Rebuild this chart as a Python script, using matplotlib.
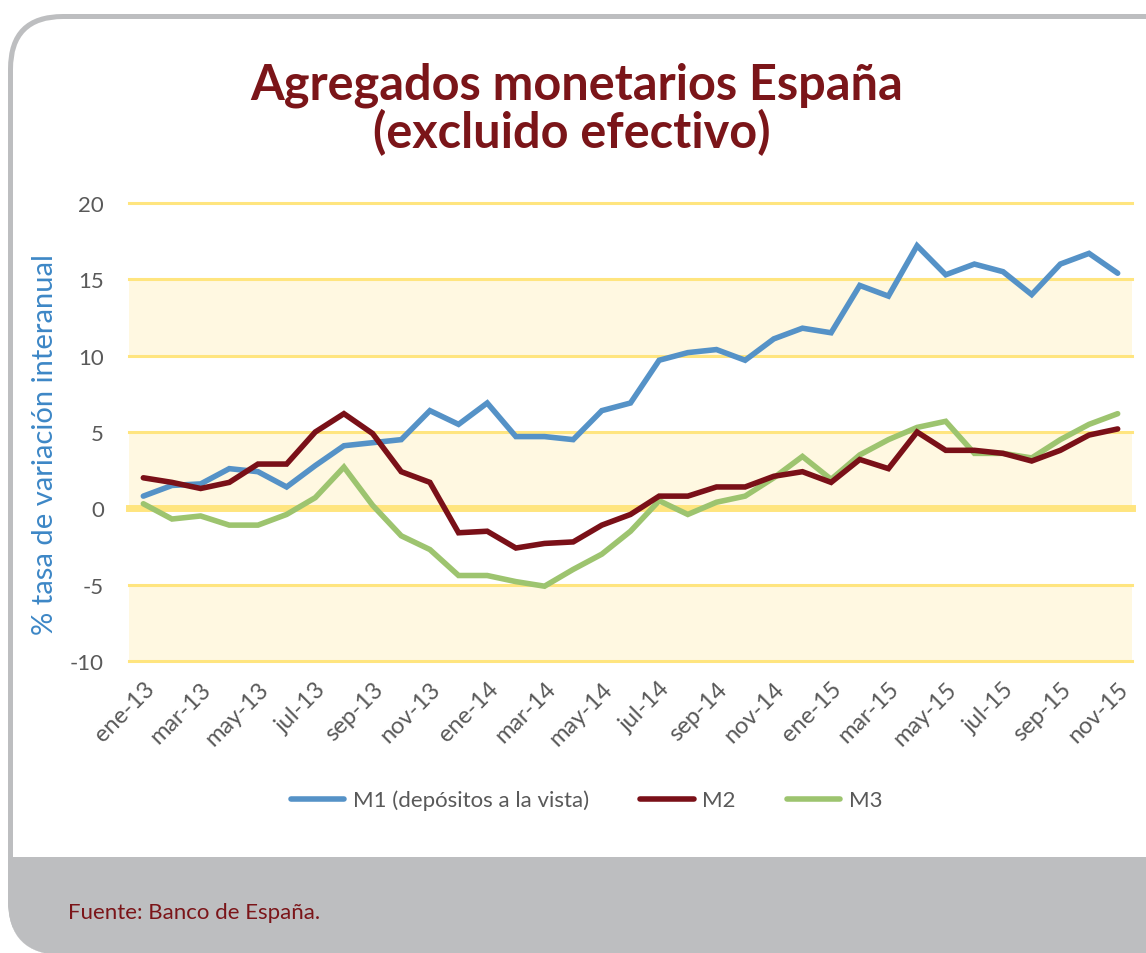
import numpy as np
import matplotlib
matplotlib.use("Agg")
from matplotlib import pyplot as plt
from matplotlib.patches import FancyBboxPatch, Rectangle

plt.rcParams['font.family'] = ['Lato', 'DejaVu Sans']

# data (% tasa de variación interanual), ene-13 .. nov-15
meses = ["ene", "feb", "mar", "abr", "may", "jun", "jul", "ago", "sep", "oct", "nov", "dic"]
fechas = [m + "-" + a for a in ["13", "14", "15"] for m in meses][:35]

m1 = [0.8, 1.5, 1.6, 2.6, 2.4, 1.4, 2.8, 4.1, 4.3, 4.5, 6.4, 5.5,
      6.9, 4.7, 4.7, 4.5, 6.4, 6.9, 9.7, 10.2, 10.4, 9.7, 11.1, 11.8,
      11.5, 14.6, 13.9, 17.2, 15.3, 16.0, 15.5, 14.0, 16.0, 16.7, 15.4]
m2 = [2.0, 1.7, 1.3, 1.7, 2.9, 2.9, 5.0, 6.2, 4.9, 2.4, 1.7, -1.6,
      -1.5, -2.6, -2.3, -2.2, -1.1, -0.4, 0.8, 0.8, 1.4, 1.4, 2.1, 2.4,
      1.7, 3.2, 2.6, 5.0, 3.8, 3.8, 3.6, 3.1, 3.8, 4.8, 5.2]
m3 = [0.3, -0.7, -0.5, -1.1, -1.1, -0.4, 0.7, 2.7, 0.2, -1.8, -2.7, -4.4,
      -4.4, -4.8, -5.1, -4.0, -3.0, -1.5, 0.5, -0.4, 0.4, 0.8, 2.0, 3.4,
      1.9, 3.5, 4.5, 5.3, 5.7, 3.6, 3.6, 3.3, 4.5, 5.5, 6.2]

W, H = 1146, 954
fig = plt.figure(figsize=(W / 100, H / 100), dpi=100)

# background frame
bg = fig.add_axes([0, 0, 1, 1], zorder=0)
bg.set_xlim(0, W)
bg.set_ylim(H, 0)
bg.axis("off")
gris = "#BDBEC0"
outer = FancyBboxPatch((8, 15), 1300, 941, boxstyle="round,pad=0,rounding_size=55",
                       fc=gris, ec="none")
bg.add_patch(outer)
inner = FancyBboxPatch((13, 20), 1300, 1000, boxstyle="round,pad=0,rounding_size=50",
                       fc="white", ec="none")
bg.add_patch(inner)
inner.set_clip_path(outer)
band = Rectangle((0, 858), 1400, 200, fc=gris, ec="none")
bg.add_patch(band)
band.set_clip_path(outer)
bg.text(68, 913, "Fuente: Banco de España.", color="#7B1519", fontsize=16,
        va="center", ha="left")

# title
fig.text(0.503, 1 - 85 / H, "Agregados monetarios España", ha="center", va="center",
         fontsize=35, fontweight="bold", color="#7B1519")
fig.text(0.499, 1 - 133 / H, "(excluido efectivo)", ha="center", va="center",
         fontsize=35, fontweight="bold", color="#7B1519")

# main axes
ax = fig.add_axes([129 / W, 1 - 662 / H, (1132 - 129) / W, (662 - 204) / H],
                  zorder=1, facecolor="none")
x = np.arange(len(fechas))

for lo, hi in [(10, 15), (0, 5), (-10, -5)]:
    ax.axhspan(lo, hi, color="#FFF8E1", zorder=0, lw=0)
for yv in [-10, -5, 5, 10, 15, 20]:
    ax.axhline(yv, color="#FFE57F", lw=2.2, zorder=1, clip_on=False)
ax.axhline(0, color="#FFE57F", lw=5, zorder=1, clip_on=False)

ax.plot(x, m1, color="#5592C7", lw=4, label="M1 (depósitos a la vista)", zorder=3,
        solid_capstyle="round", solid_joinstyle="miter")
ax.plot(x, m2, color="#7A1018", lw=4, label="M2", zorder=4,
        solid_capstyle="round", solid_joinstyle="miter")
ax.plot(x, m3, color="#9DC46F", lw=4, label="M3", zorder=3,
        solid_capstyle="round", solid_joinstyle="miter")

ax.set_xlim(-0.5, len(fechas) - 0.5)
ax.set_ylim(-10, 20)
ax.set_yticks([-10, -5, 0, 5, 10, 15, 20])
ax.set_yticklabels(["-10", "-5", "0", "5", "10", "15", "20"])
ax.set_xticks(x[::2])
ax.set_xticklabels(fechas[::2], rotation=45, ha="right", rotation_mode="anchor")
ax.tick_params(axis="y", length=0, pad=18, labelsize=16, labelcolor="#595959")
ax.tick_params(axis="x", length=0, pad=12, labelsize=17, labelcolor="#595959")
for s in ax.spines.values():
    s.set_visible(False)

fig.text(45 / W, 1 - 445 / H, "% tasa de variación interanual", rotation=90,
         ha="center", va="center", fontsize=21, color="#3D87C6")

fig.legend(loc="center", bbox_to_anchor=(0.512, 1 - 801 / H), ncol=3, frameon=False,
           fontsize=16, handlelength=2.4, columnspacing=2.3, handletextpad=0.4,
           labelcolor="#595959")

plt.savefig("out.png", dpi=100)
